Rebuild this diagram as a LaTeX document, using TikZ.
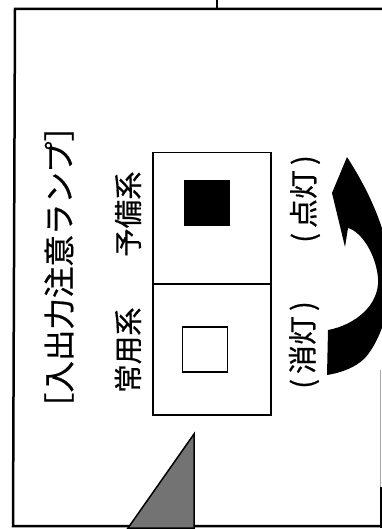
\documentclass[tikz,border=0pt]{standalone}
\usepackage{fontspec}
\newfontfamily\jp{Noto Sans CJK JP}[FakeBold=0.6]
\begin{document}
\begin{tikzpicture}[x=1pt,y=-1pt,
  frame/.style={line width=2.5pt},
  cell/.style={draw, line width=1.4pt, minimum width=118pt, minimum height=131pt, inner sep=0pt},
  lamp/.style={draw, line width=1.2pt, minimum size=45pt, inner sep=0pt},
  jtext/.style={font=\jp\fontsize{28.5}{28.5}\selectfont, rotate=90, inner sep=0pt},
  ttext/.style={font=\jp\fontsize{31.5}{31.5}\selectfont, rotate=90, inner sep=0pt},
  ptext/.style={font=\jp\fontsize{29}{29}\selectfont, rotate=90, inner sep=0pt}]
\useasboundingbox (0,0) rectangle (382,529);
\fill[white] (0,0) rectangle (382,529);
\begin{scope}
\clip (0,0) rectangle (382,529);
% frame
\coordinate (tl) at (15,9);
\coordinate (tr) at (384,9);
\coordinate (bl) at (13,526);
\coordinate (br) at (380,526);
\coordinate (tick top) at (217,0);
\coordinate (tick bot) at (217,9);
\draw[frame] (tr) -- (tl) -- (bl) -- (br);
\draw[line width=1.5pt] (tick top) -- (tick bot);
\coordinate (rs1) at (380.5,370);
\coordinate (rs2) at (380.5,487);
\coordinate (rs3) at (380.5,528);
\draw[black!35, line width=1pt] (rs1) -- (rs2);
\draw[line width=2pt] (rs2) -- (rs3);
% triangle
\filldraw[fill=black!55, draw=black, line width=1.5pt] (128,528) -- (194,434) -- (194,528) -- cycle;
% cells
\node[cell] (standby) at (212,218) {};
\node[cell] (normal) at (212,349.5) {};
\node[lamp, fill=black] (lampon) at (207,203) {};
\node[lamp] (lampoff) at (205,349.5) {};
% labels
\node[jtext] (lblnormal) at (128,350) {常用系};
\node[jtext] (lblstandby) at (128,214) {予備系};
\node[ptext] (off) at (304,345) {(\hspace{5pt}消灯\hspace{5pt})};
\node[ptext] (on) at (305,199) {(\hspace{5pt}点灯\hspace{5pt})};
\node[ttext] (title) at (59,267) {［入出力注意ランプ］};
% curved arrow
\fill (327,375) -- (328,330) .. controls (355,325) and (380,305) .. (378,278)
  .. controls (376,255) and (362,232) .. (348,228) -- (345,247) -- (332,193) -- (347,157)
  .. controls (365,185) and (380,215) .. (388,250)
  .. controls (396,290) and (385,335) .. (365,358)
  .. controls (355,368) and (340,373) .. (327,375) -- cycle;
\end{scope}
\end{tikzpicture}
\end{document}
